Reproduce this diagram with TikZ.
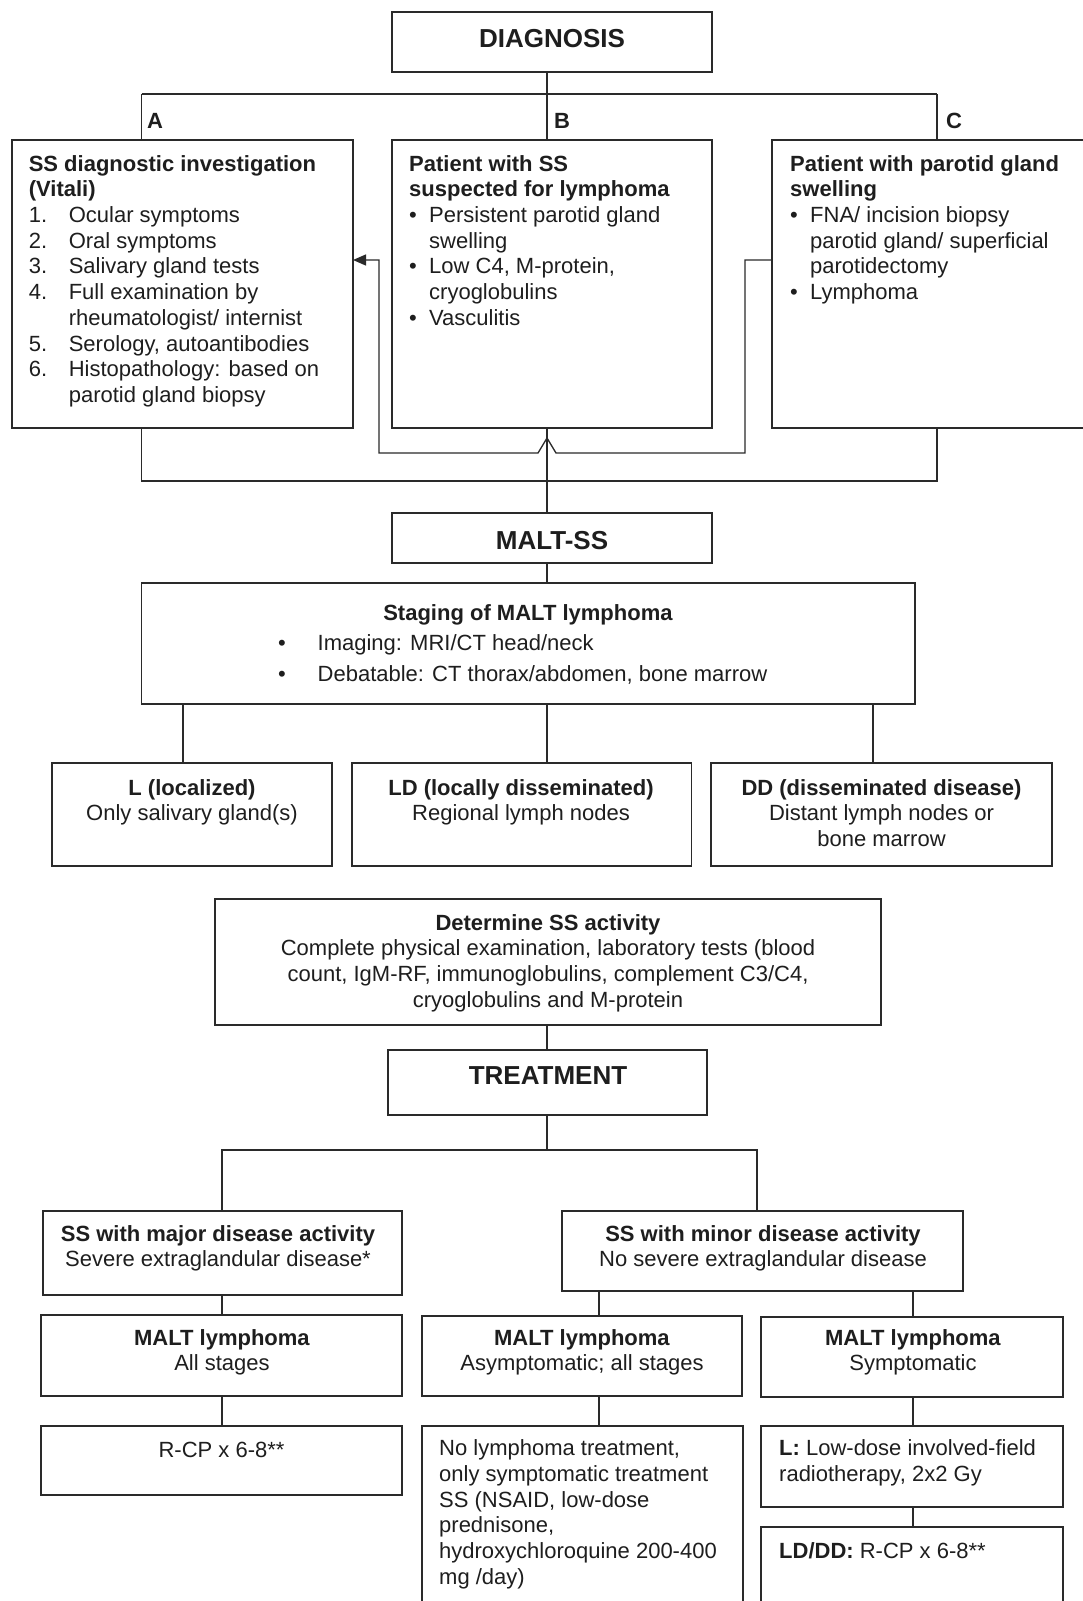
\documentclass[tikz,border=0pt]{standalone}
\usepackage{fontspec}
\setmainfont{Liberation Sans}
\usepackage{xcolor}
\usetikzlibrary{arrows.meta, positioning}

\definecolor{ink}{HTML}{1E1E1E}
\definecolor{edge}{HTML}{2A2A2A}
\newcommand{\bodyfont}{\fontsize{22}{25.7}\selectfont}
\newcommand{\headfont}{\fontsize{26}{30}\selectfont\bfseries}
\newcommand{\bul}{\makebox[20pt][l]{\textbullet}}
\newcommand{\bulgap}{\hspace*{20pt}}
\newcommand{\itemno}[1]{\makebox[40pt][l]{#1}}

\begin{document}
\begin{tikzpicture}[
  x=1pt, y=-1pt,
  block/.style={rectangle, draw=edge, line width=1.7pt,
    inner sep=0pt, outer sep=0pt, anchor=north west},
  txt/.style={inner sep=0pt, font=\bodyfont, text=ink, align=left,
    anchor=north west, yshift=-3pt, execute at begin node=\strut},
  ctr/.style={txt, align=center, anchor=north},
  head/.style={inner sep=0pt, font=\headfont, text=ink, anchor=base},
  tag/.style={inner sep=0pt, font=\bodyfont\bfseries, text=ink, anchor=base},
  link/.style={draw=edge, line width=1.3pt},
  back/.style={link, -{Triangle[length=13pt, width=11pt]}},
]

\fill[white] (0,0) rectangle (1082,1601);
\useasboundingbox (0,0) rectangle (1082,1601);

\node[block, minimum width=320, minimum height=60] (diag) at (392,12) {};
\node[head] (diagT) at (552,47.5) {DIAGNOSIS};

\node[tag] (tagA) at (155,128) {A};
\node[tag] (tagB) at (562,128) {B};
\node[tag] (tagC) at (954,128) {C};

\node[block, minimum width=341, minimum height=288] (inv) at (12,140) {};
\node[txt] (invT) at (28.6,152) {\textbf{SS diagnostic investigation}\\
  \textbf{(Vitali)}\\
  \itemno{1.}Ocular symptoms\\
  \itemno{2.}Oral symptoms\\
  \itemno{3.}Salivary gland tests\\
  \itemno{4.}Full examination by\\
  \hspace*{40pt}rheumatologist/ internist\\
  \itemno{5.}Serology, autoantibodies\\
  \itemno{6.}Histopathology: based on\\
  \hspace*{40pt}parotid gland biopsy};

\node[block, minimum width=320, minimum height=288] (susp) at (392,140) {};
\node[txt] (suspT) at (409,152) {\textbf{Patient with SS}\\
  \textbf{suspected for lymphoma}\\
  \bul Persistent parotid gland\\
  \bulgap swelling\\
  \bul Low C4, M-protein,\\
  \bulgap cryoglobulins\\
  \bul Vasculitis};

\node[block, minimum width=330, minimum height=288] (parot) at (772,140) {};
\node[txt] (parotT) at (790,152) {\textbf{Patient with parotid gland}\\
  \textbf{swelling}\\
  \bul FNA/ incision biopsy\\
  \bulgap parotid gland/ superficial\\
  \bulgap parotidectomy\\
  \bul Lymphoma};

\node[block, minimum width=320, minimum height=50] (malt) at (392,513) {};
\node[head] (maltT) at (552,549.5) {MALT-SS};

\node[block, minimum width=773.5, minimum height=121] (stage) at (141.5,583) {};
\node[ctr] (stageT) at (528,599) {\textbf{Staging of MALT lymphoma}};
\node[txt] (stageL) at (278,631) {\makebox[39.5pt][l]{\textbullet}Imaging: MRI/CT head/neck\\[5.3pt]
  \makebox[39.5pt][l]{\textbullet}Debatable: CT thorax/abdomen, bone marrow};

\node[block, minimum width=280, minimum height=103] (locL) at (52,763) {};
\node[ctr] (locLT) at (192,776) {\textbf{L (localized)}\\ Only salivary gland(s)};
\node[block, minimum width=339.5, minimum height=103] (locLD) at (352,763) {};
\node[ctr] (locLDT) at (521,776) {\textbf{LD (locally disseminated)}\\ Regional lymph nodes};
\node[block, minimum width=341, minimum height=103] (locDD) at (711,763) {};
\node[ctr] (locDDT) at (881.5,776) {\textbf{DD (disseminated disease)}\\
  Distant lymph nodes or\\ bone marrow};

\node[block, minimum width=666, minimum height=126] (det) at (215,899) {};
\node[ctr] (detT) at (548,911) {\textbf{Determine SS activity}\\
  Complete physical examination, laboratory tests (blood\\
  count, IgM-RF, immunoglobulins, complement C3/C4,\\
  cryoglobulins and M-protein};

\node[block, minimum width=319, minimum height=65] (treat) at (388,1050) {};
\node[head] (treatT) at (548,1084.5) {TREATMENT};

\node[block, minimum width=359, minimum height=84] (major) at (43,1211) {};
\node[ctr] (majorT) at (218,1222) {\textbf{SS with major disease activity}\\
  Severe extraglandular disease*};
\node[block, minimum width=401, minimum height=80] (minor) at (562,1211) {};
\node[ctr] (minorT) at (763,1222) {\textbf{SS with minor disease activity}\\
  No severe extraglandular disease};

\node[block, minimum width=361, minimum height=81] (mAll) at (41,1315) {};
\node[ctr] (mAllT) at (222,1326) {\textbf{MALT lymphoma}\\ All stages};
\node[block, minimum width=320, minimum height=80] (mAsym) at (422,1316) {};
\node[ctr] (mAsymT) at (582,1326) {\textbf{MALT lymphoma}\\ Asymptomatic; all stages};
\node[block, minimum width=302, minimum height=80] (mSymp) at (761,1317) {};
\node[ctr] (mSympT) at (913,1326) {\textbf{MALT lymphoma}\\ Symptomatic};

\node[block, minimum width=361, minimum height=69] (rcp) at (41,1426) {};
\node[ctr] (rcpT) at (221.5,1436.5) {R-CP x 6-8**};
\node[block, minimum width=321, minimum height=200] (nolym) at (422,1426) {};
\node[txt] (nolymT) at (439,1436.5) {No lymphoma treatment,\\
  only symptomatic treatment\\
  SS (NSAID, low-dose\\
  prednisone,\\
  hydroxychloroquine 200-400\\
  mg /day)};
\node[block, minimum width=302, minimum height=81] (lrad) at (761,1426) {};
\node[txt] (lradT) at (779,1436.5) {\textbf{L:} Low-dose involved-field\\
  radiotherapy, 2x2 Gy};
\node[block, minimum width=302, minimum height=100] (lddd) at (761,1527) {};
\node[txt] (ldddT) at (779,1537.5) {\textbf{LD/DD:} R-CP x 6-8**};

\coordinate (jTop) at (547,94);
\coordinate (jA) at (141.5,94);
\coordinate (jC) at (937,94);
\coordinate (jBot) at (547,481);
\coordinate (fbR) at (745,260);
\coordinate (fbL) at (379,260);
\coordinate (fbY) at (547,453);

\draw[link] (jTop |- diag.south) -- (jTop);
\draw[link] (jA) -- (jC);
\draw[link] (jA) -- (jA |- inv.north);
\draw[link] (jTop) -- (jTop |- susp.north);
\draw[link] (jC) -- (jC |- parot.north);

\draw[back] (parot.west |- fbR) -- (fbR) -- (fbR |- fbY) -- ++(-189,0)
  -- ++(-9,-15) -- ++(-9,15) -- (fbL |- fbY) -- (fbL) -- (inv.east |- fbL);

\draw[link] (jA |- inv.south) -- (jA |- jBot) -- (jC |- jBot) -- (jC |- parot.south);
\draw[link] (jTop |- susp.south) -- (jTop |- malt.north);
\draw[link] (jTop |- malt.south) -- (jTop |- stage.north);

\foreach \x/\t in {183/locL, 547/locLD, 873/locDD}{
  \draw[link] (\x,0 |- stage.south) -- (\x,0 |- \t.north);
}

\coordinate (jT) at (547,1150);
\coordinate (jMaj) at (222,1150);
\coordinate (jMin) at (757,1150);
\coordinate (jAs) at (599,0);
\coordinate (jSy) at (913,0);

\draw[link] (jTop |- det.south) -- (jTop |- treat.north);
\draw[link] (jTop |- treat.south) -- (jT);
\draw[link] (jMaj |- major.north) -- (jMaj) -- (jMin) -- (jMin |- minor.north);
\draw[link] (jMaj |- major.south) -- (jMaj |- mAll.north);
\draw[link] (jMaj |- mAll.south) -- (jMaj |- rcp.north);
\draw[link] (jAs |- minor.south) -- (jAs |- mAsym.north);
\draw[link] (jAs |- mAsym.south) -- (jAs |- nolym.north);
\draw[link] (jSy |- minor.south) -- (jSy |- mSymp.north);
\draw[link] (jSy |- mSymp.south) -- (jSy |- lrad.north);
\draw[link] (jSy |- lrad.south) -- (jSy |- lddd.north);

\end{tikzpicture}
\end{document}
